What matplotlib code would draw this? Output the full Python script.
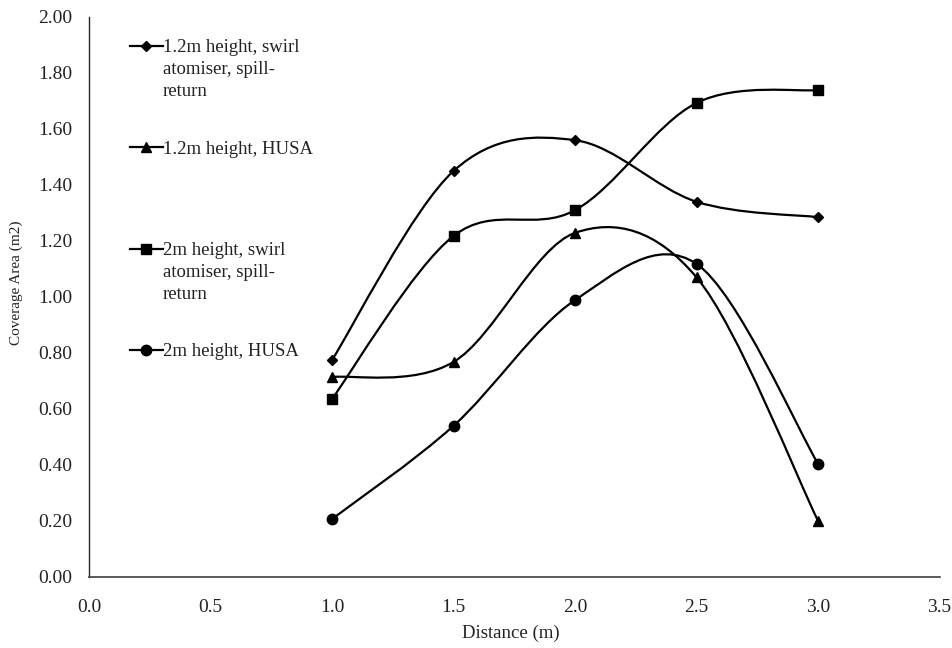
import matplotlib
matplotlib.use("Agg")
import matplotlib.pyplot as plt
import numpy as np
from matplotlib.lines import Line2D
from matplotlib.path import Path
from matplotlib.patches import PathPatch

plt.rcParams['font.family'] = ['Liberation Serif', 'DejaVu Serif']

## ----------------------------------------------------------------------------
## Data
## ----------------------------------------------------------------------------
distance = [1.0, 1.5, 2.0, 2.5, 3.0]

h12_swirl = [0.775, 1.45, 1.56, 1.34, 1.285]
h12_husa = [0.714, 0.768, 1.229, 1.07, 0.20]
h2_swirl = [0.636, 1.218, 1.31, 1.693, 1.739]
h2_husa = [0.207, 0.54, 0.989, 1.118, 0.404]

series = [
    ("1.2m height, swirl\natomiser, spill-\nreturn", h12_swirl, 'D', 5.0),
    ("1.2m height, HUSA", h12_husa, '^', 7.0),
    ("2m height, swirl\natomiser, spill-\nreturn", h2_swirl, 's', 7.5),
    ("2m height, HUSA", h2_husa, 'o', 7.5),
]

x_ticks = [0.0, 0.5, 1.0, 1.5, 2.0, 2.5, 3.0, 3.5]
y_ticks = [0.0, 0.2, 0.4, 0.6, 0.8, 1.0, 1.2, 1.4, 1.6, 1.8, 2.0]

TEXT = '#222222'


## ----------------------------------------------------------------------------
## Smoothed line (bezier through the points, spreadsheet style)
## ----------------------------------------------------------------------------
def smoothPath(xs, ys):
    pts = np.column_stack([xs, ys])
    n = len(pts)
    verts = [pts[0]]
    codes = [Path.MOVETO]
    for i in range(n - 1):
        p_prev = pts[max(i - 1, 0)]
        p0 = pts[i]
        p1 = pts[i + 1]
        p_next = pts[min(i + 2, n - 1)]
        c1 = p0 + (p1 - p_prev) / 6.0
        c2 = p1 - (p_next - p0) / 6.0
        verts += [c1, c2, p1]
        codes += [Path.CURVE4] * 3
    return Path(verts, codes)


## ----------------------------------------------------------------------------
## Plot
## ----------------------------------------------------------------------------
fig = plt.figure(figsize=(9.52, 6.48), dpi=100)
ax = fig.add_axes([0.0935, 0.1096, 0.8935, 0.8642])

for label, ys, marker, ms in series:
    ax.add_patch(PathPatch(smoothPath(distance, ys), facecolor='none',
                           edgecolor='black', lw=1.6, zorder=2))
    ax.plot(distance, ys, linestyle='none', marker=marker, markersize=ms,
            color='black', zorder=3)

ax.set_xlim(0, 3.5)
ax.set_ylim(0, 2.0)
ax.set_xticks(x_ticks)
ax.set_yticks(y_ticks)
ax.set_xticklabels(['{:.1f}'.format(v) for v in x_ticks])
ax.set_yticklabels(['{:.2f}'.format(v) for v in y_ticks])
ax.tick_params(axis='both', length=0, labelsize=14, colors=TEXT)
ax.tick_params(axis='x', pad=16)
ax.tick_params(axis='y', pad=12)

for side in ['top', 'right']:
    ax.spines[side].set_visible(False)
ax.spines['left'].set_color('#262626')
ax.spines['bottom'].set_color('#404040')
ax.spines['left'].set_linewidth(1.0)
ax.spines['bottom'].set_linewidth(1.2)

ax.set_xlabel('Distance (m)', fontsize=13.5, color=TEXT)
ax.set_ylabel('Coverage Area (m2)', fontsize=11, color=TEXT)
ax.xaxis.set_label_coords(0.496, -0.086)
ax.yaxis.set_label_coords(-0.078, 0.525)

## legend, one entry per series down the left side
y0 = 0.948
step = 0.181
for k, (label, ys, marker, ms) in enumerate(series):
    yy = y0 - k * step
    ax.add_line(Line2D([0.048, 0.087], [yy, yy], color='black', lw=1.6,
                       transform=ax.transAxes))
    ax.add_line(Line2D([0.067], [yy], marker=marker, markersize=ms,
                       color='black', transform=ax.transAxes))
    ax.text(0.087, yy + 0.012, label, transform=ax.transAxes, fontsize=13.5,
            color=TEXT, va='top', ha='left', linespacing=1.38)

fig.savefig('out.png', dpi=100)
